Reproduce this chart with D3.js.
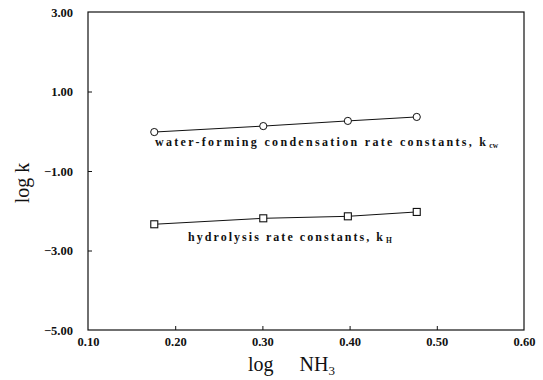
<!DOCTYPE html>
<html>
<head>
<meta charset="utf-8">
<script src="https://cdn.jsdelivr.net/npm/d3@7/dist/d3.min.js"></script>
<style>
  html, body { margin: 0; padding: 0; background: #fff; }
  svg { display: block; }
  .tick-label { font-family: "Liberation Serif", "Times New Roman", serif; font-weight: bold; font-size: 12.5px; fill: #111; }
  .axis-title { font-family: "Liberation Serif", "Times New Roman", serif; font-size: 20px; fill: #111; }
  .series-label { font-family: "Liberation Serif", "Times New Roman", serif; font-weight: bold; font-size: 12px; fill: #111; }
</style>
</head>
<body>
<svg id="chart" width="543" height="380"></svg>
<script>
// log of ammonia concentration (NH3 = 1.5, 2, 2.5, 3)
const logNH3 = [0.176, 0.301, 0.398, 0.477];
// water-forming condensation rate constants, log k_cw
const logKcw = [-0.02, 0.13, 0.26, 0.36];
// hydrolysis rate constants, log k_H
const logKh = [-2.34, -2.19, -2.14, -2.03];

const xTicks = [0.10, 0.20, 0.30, 0.40, 0.50, 0.60];
const yTicks = [3.00, 1.00, -1.00, -3.00, -5.00];

const svg = d3.select("#chart");
const margin = { left: 88, right: 19, top: 12, bottom: 50 };
const W = 543, H = 380;

const x = d3.scaleLinear().domain([0.10, 0.60]).range([margin.left, W - margin.right]);
const y = d3.scaleLinear().domain([-5, 3]).range([H - margin.bottom, margin.top]);

const ink = "#111";

// frame
svg.append("rect")
  .attr("x", x(0.10)).attr("y", y(3))
  .attr("width", x(0.60) - x(0.10)).attr("height", y(-5) - y(3))
  .attr("fill", "none").attr("stroke", ink).attr("stroke-width", 1.2);

// bottom axis: inward ticks, labels below
const xAxis = d3.axisBottom(x).tickValues(xTicks).tickSize(-4).tickPadding(5)
  .tickFormat(d3.format(".2f"));
const gx = svg.append("g").attr("transform", `translate(0,${y(-5)})`).call(xAxis);
gx.select(".domain").remove();
gx.selectAll(".tick line").attr("stroke", ink)
  .filter(d => d === 0.10 || d === 0.60).remove();
gx.selectAll(".tick text").attr("class", "tick-label").attr("dy", "0.85em");

// left axis: inward ticks, labels to the left
const yAxis = d3.axisLeft(y).tickValues(yTicks).tickSize(-4).tickPadding(15)
  .tickFormat(d => d3.format(".2f")(d).replace("-", "\u2212"));
const gy = svg.append("g").attr("transform", `translate(${x(0.10)},0)`).call(yAxis);
gy.select(".domain").remove();
gy.selectAll(".tick line").attr("stroke", ink)
  .filter(d => d === 3 || d === -5).remove();
gy.selectAll(".tick text").attr("class", "tick-label");

// axis titles
const xt = svg.append("text").attr("class", "axis-title")
  .attr("x", 248).attr("y", 371).attr("text-anchor", "start");
xt.append("tspan").text("log");
xt.append("tspan").attr("dx", 26).text("NH");
xt.append("tspan").attr("font-size", 13).attr("dy", 4).text("3");

svg.append("text").attr("class", "axis-title")
  .attr("transform", `translate(29,183) rotate(-90)`)
  .attr("text-anchor", "middle")
  .attr("font-size", 22)
  .text("log  k");

// series lines and markers
const line = d3.line().x((d, i) => x(logNH3[i])).y(d => y(d));

svg.append("path").datum(logKcw).attr("d", line)
  .attr("fill", "none").attr("stroke", ink).attr("stroke-width", 1);
svg.append("path").datum(logKh).attr("d", line)
  .attr("fill", "none").attr("stroke", ink).attr("stroke-width", 1);

svg.selectAll(".pt-cw").data(logKcw).enter().append("circle")
  .attr("cx", (d, i) => x(logNH3[i])).attr("cy", d => y(d)).attr("r", 3.6)
  .attr("fill", "#fff").attr("stroke", ink).attr("stroke-width", 1);

svg.selectAll(".pt-h").data(logKh).enter().append("rect")
  .attr("x", (d, i) => x(logNH3[i]) - 3.5).attr("y", d => y(d) - 3.5)
  .attr("width", 7).attr("height", 7)
  .attr("fill", "#fff").attr("stroke", ink).attr("stroke-width", 1.1);

// series labels
const lab1 = svg.append("text").attr("class", "series-label")
  .attr("x", 155).attr("y", y(logKcw[0]) + 14);
lab1.append("tspan").attr("textLength", 331).attr("lengthAdjust", "spacing")
  .text("water-forming condensation rate constants, k");
lab1.append("tspan").attr("font-size", 7.5).attr("dy", 2).attr("dx", 1).text("cw");

const lab2 = svg.append("text").attr("class", "series-label")
  .attr("x", 188).attr("y", y(logKh[0]) + 17);
lab2.append("tspan").attr("textLength", 195).attr("lengthAdjust", "spacing")
  .text("hydrolysis rate constants, k");
lab2.append("tspan").attr("font-size", 7.5).attr("dy", 2).attr("dx", 1).text("H");
</script>
</body>
</html>
